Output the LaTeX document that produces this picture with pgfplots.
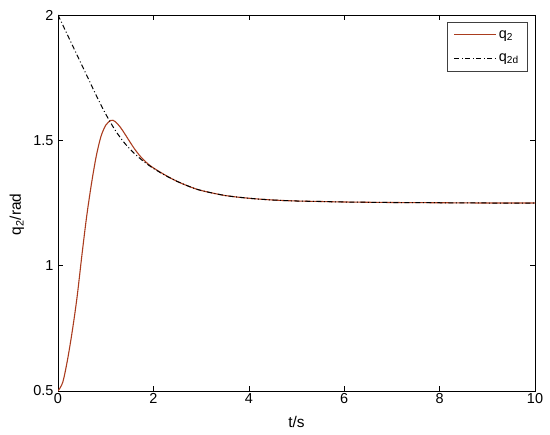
\documentclass[border=0pt]{standalone}
\usepackage{pgfplots}
\pgfplotsset{compat=1.18}
\usepackage{fontspec}
\setmainfont{Liberation Sans}
\definecolor{qred}{RGB}{170,60,30}
\newcommand{\tickfont}{\fontsize{14.5}{16}\selectfont}
\newcommand{\labfont}{\fontsize{15.5}{17}\selectfont}

\pgfplotstableread{
t v
0 0.500
0.1 0.535
0.2 0.625
0.3 0.740
0.4 0.875
0.5 1.040
0.6 1.195
0.7 1.325
0.8 1.435
0.9 1.515
1.0 1.560
1.1 1.579
1.15 1.580
1.2 1.575
1.3 1.554
1.4 1.526
1.5 1.496
1.6 1.467
1.7 1.442
1.8 1.421
1.9 1.404
2.0 1.390
2.25 1.361
2.5 1.336
2.75 1.316
3.0 1.300
3.5 1.280
4.0 1.269
4.5 1.262
5.0 1.258
5.5 1.256
6.0 1.254
7.0 1.252
8.0 1.251
9.0 1.250
10.0 1.250
}\qtwo

\pgfplotstableread{
t v
0 2.000
0.2 1.920
0.4 1.840
0.6 1.760
0.8 1.680
1.0 1.605
1.2 1.540
1.4 1.488
1.6 1.448
1.8 1.415
2.0 1.388
2.25 1.360
2.5 1.336
2.75 1.316
3.0 1.300
3.5 1.280
4.0 1.269
4.5 1.262
5.0 1.258
5.5 1.256
6.0 1.254
7.0 1.252
8.0 1.251
9.0 1.250
10.0 1.250
}\qtwod

\begin{document}
\begin{tikzpicture}
\begin{axis}[
  scale only axis,
  width=477bp, height=376bp,
  xmin=0, xmax=10, ymin=0.5, ymax=2,
  xtick={0,2,4,6,8,10},
  ytick={0.5,1,1.5,2},
  tick align=inside,
  major tick length=5bp,
  axis line style={line width=0.6bp},
  every tick/.style={black, line width=0.6bp},
  tick label style={font=\tickfont},
  xticklabel style={yshift=1bp},
  yticklabel style={xshift=-1bp},
  label style={font=\labfont},
  /pgf/number format/assume math mode=true,
  xlabel={t/s},
  ylabel={q\textsubscript{2}/rad},
  xlabel style={at={(axis description cs:0.5,0)}, anchor=center, yshift=-31bp},
  ylabel style={at={(axis description cs:0,0.47)}, anchor=center, yshift=41bp},
  legend cell align=left,
  legend style={at={(1,1)}, anchor=north east, xshift=-7bp, yshift=-7bp,
    draw=black!75, line width=0.6bp, font=\tickfont,
    row sep=10bp, inner xsep=7bp, inner ysep=6bp},
  legend image code/.code={\draw[#1] (0bp,0bp) -- (42bp,0bp);},
]
\addplot[qred, line width=1.1bp, smooth] table[x=t, y=v] {\qtwo};
\addplot[black, line width=1bp, smooth, dash pattern=on 5bp off 2.5bp on 1bp off 2.5bp] table[x=t, y=v] {\qtwod};
\legend{q\textsubscript{2}, q\textsubscript{2d}}
\end{axis}
\pgfresetboundingbox
\path[use as bounding box] ([shift={(-58bp,-44bp)}]current axis.south west) rectangle ([shift={(15bp,15bp)}]current axis.north east);
\end{tikzpicture}
\end{document}
